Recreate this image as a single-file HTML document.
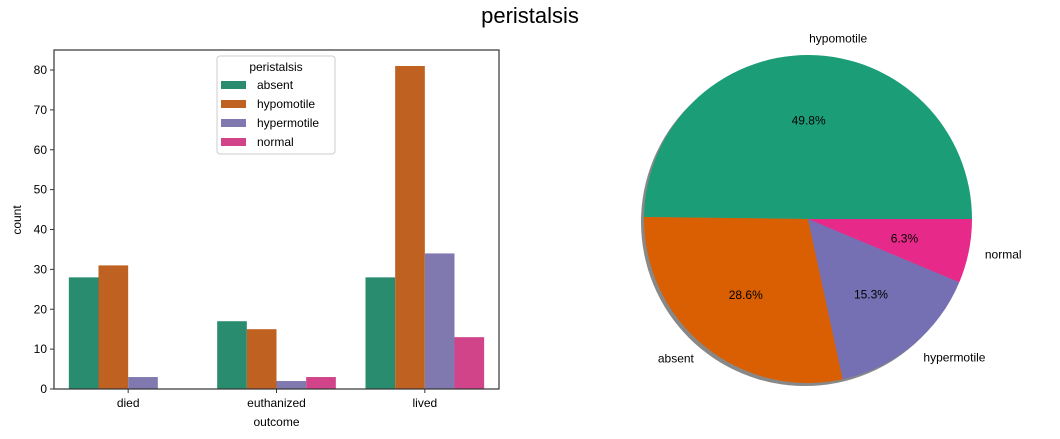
<!DOCTYPE html>
<html><head><meta charset="utf-8"><style>
body{margin:0;background:#fff;}
svg{display:block;font-family:"Liberation Sans","DejaVu Sans",sans-serif;}
</style></head><body>
<svg id="c" width="1060" height="439">
<text x="530" y="23" font-size="22" text-anchor="middle">peristalsis</text>
<g id="bar"></g><g id="pie"></g>
</svg>
<script>
const outcomes=["died","euthanized","lived"];
const hues=["absent","hypomotile","hypermotile","normal"];
const absentVals=[28,17,28];
const hypomotileVals=[31,15,81];
const hypermotileVals=[3,2,34];
const normalVals=[0,3,13];
const yTicks=[0,10,20,30,40,50,60,70,80];
const pieLabels=["hypomotile","absent","hypermotile","normal"];
const pieVals=[49.8,28.6,15.3,6.3];

const NS="http://www.w3.org/2000/svg";
function mk(p,t,a){const e=document.createElementNS(NS,t);for(const k in a)e.setAttribute(k,a[k]);p.appendChild(e);return e;}
const barCols=["#2a8c6e","#bf6120","#8079b0","#d1448a"];
const pieCols=["#1b9e77","#d95f02","#7570b3","#e7298a"];
const series=[absentVals,hypomotileVals,hypermotileVals,normalVals];
const L=54,R=499,T=50,B=389;
const y=v=>B-(v/80)*(B-70);
const band=(R-L)/outcomes.length;
const xc=i=>L+band*(i+0.5);
const bg=document.getElementById('bar');
const bw=band*0.8/4;
series.forEach((s,h)=>s.forEach((v,i)=>{
  const r=mk(bg,'rect',{x:xc(i)-band*0.4+h*bw,y:y(v),width:bw,height:B-y(v),fill:barCols[h]});
  
  
}));
mk(bg,'rect',{x:L,y:T,width:R-L,height:B-T,fill:'none',stroke:'#333','stroke-width':1.2});
yTicks.forEach(t=>{
  mk(bg,'line',{x1:L-4,x2:L,y1:y(t),y2:y(t),stroke:'#333'});
  const e=mk(bg,'text',{x:L-7,y:y(t)+4,'font-size':12,'text-anchor':'end'});e.textContent=t;
  
  
});
outcomes.forEach((o,i)=>{
  mk(bg,'line',{x1:xc(i),x2:xc(i),y1:B,y2:B+4,stroke:'#333'});
  const e=mk(bg,'text',{x:xc(i),y:B+18,'font-size':12,'text-anchor':'middle'});e.textContent=o;
  
  
});
let e=mk(bg,'text',{x:(L+R)/2,y:426,'font-size':12,'text-anchor':'middle'});e.textContent='outcome';


e=mk(bg,'text',{x:0,y:0,'font-size':12,'text-anchor':'middle',transform:'translate(21,220) rotate(-90)'});e.textContent='count';


// legend
const lg=mk(bg,'g',{});


mk(lg,'rect',{x:217,y:56,width:118,height:98,rx:3,fill:'#fff',stroke:'#ccc'});
e=mk(lg,'text',{x:276,y:71,'font-size':12,'text-anchor':'middle'});e.textContent='peristalsis';
hues.forEach((h,i)=>{
  mk(lg,'rect',{x:221,y:81+i*19,width:25,height:8,fill:barCols[i]});
  const t=mk(lg,'text',{x:257,y:89+i*19,'font-size':12});t.textContent=h;
  
  
});
// pie
const pg=document.getElementById('pie');
const cx=808,cy=219,rad=164;
const tot=pieVals.reduce((a,b)=>a+b,0);
mk(pg,'circle',{cx:cx-3,cy:cy+3,r:rad,fill:'#888'});
let a0=0;
pieVals.forEach((v,i)=>{
  const a1=a0+v/tot*2*Math.PI;
  const p=(a)=>[cx+rad*Math.cos(a),cy-rad*Math.sin(a)];
  const [x0,y0]=p(a0),[x1,y1]=p(a1);
  const s=mk(pg,'path',{d:`M${cx},${cy}L${x0},${y0}A${rad},${rad} 0 ${a1-a0>Math.PI?1:0} 0 ${x1},${y1}Z`,fill:pieCols[i]});
  
  
  const m=(a0+a1)/2;
  const lx=cx+1.1*rad*Math.cos(m),ly=cy-1.1*rad*Math.sin(m);
  const t=mk(pg,'text',{x:lx,y:ly+4,'font-size':12,'text-anchor':Math.cos(m)>0?'start':'end'});t.textContent=pieLabels[i];
  
  
  const q=mk(pg,'text',{x:cx+0.6*rad*Math.cos(m),y:cy-0.6*rad*Math.sin(m)+4,'font-size':12,'text-anchor':'middle'});q.textContent=v.toFixed(1)+'%';
  
  
  a0=a1;
});
</script>
</body></html>
